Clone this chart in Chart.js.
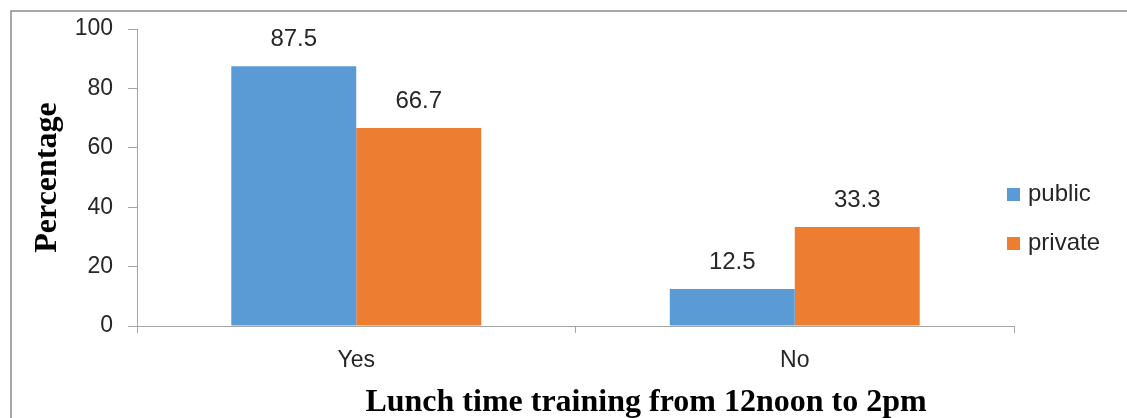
<!DOCTYPE html>
<html>
<head>
<meta charset="utf-8">
<script src="https://cdn.jsdelivr.net/npm/chart.js@4.4.1/dist/chart.umd.min.js"></script>
<style>
  html, body { margin: 0; padding: 0; background: #fff; }
  #wrap { width: 1127px; height: 418px; position: relative; }
</style>
</head>
<body>
<div id="wrap"><canvas id="lunchChart" width="1127" height="418"></canvas></div>
<script>
// data
const categories = ['Yes', 'No'];
const publicValues = [87.5, 12.5];
const privateValues = [66.7, 33.3];
const yTicks = [0, 20, 40, 60, 80, 100];
const xTitle = 'Lunch time training from 12noon to 2pm';

const axisGray = '#A6A6A6';
const textColor = '#262626';
const labelFont = { family: 'Liberation Sans', size: 23 };
const titleFont = 'bold 32px "Liberation Serif"';

// outer frame: only top and left edges visible in the reference
const framePlugin = {
    id: 'frame',
    beforeDraw(chart) {
        const c = chart.ctx;
        c.save();
        c.strokeStyle = '#8C8C8C';
        c.lineWidth = 1.5;
        c.beginPath();
        c.moveTo(11, 418);
        c.lineTo(11, 11);
        c.lineTo(1127, 11);
        c.stroke();
        c.restore();
    }
};

// value labels above the bars
const valueLabels = {
    id: 'valueLabels',
    afterDatasetsDraw(chart) {
        const c = chart.ctx;
        c.save();
        c.font = '24px ' + labelFont.family;
        c.fillStyle = textColor;
        c.textAlign = 'center';
        c.textBaseline = 'middle';
        chart.data.datasets.forEach((ds, i) => {
            chart.getDatasetMeta(i).data.forEach((bar, j) => {
                c.fillText(ds.data[j].toFixed(1), bar.x, bar.y - 27);
            });
        });
        c.restore();
    }
};

// legend + x title, drawn by hand so the plot area keeps its width
const sideLegend = {
    id: 'sideLegend',
    afterDraw(chart) {
        const c = chart.ctx;
        c.save();
        c.font = '24px ' + labelFont.family;
        c.textBaseline = 'middle';
        chart.data.datasets.forEach((ds, i) => {
            const y = 194 + i * 49;
            c.fillStyle = ds.backgroundColor;
            c.fillRect(1007, y - 6, 13, 13);
            c.fillStyle = textColor;
            c.fillText(ds.label, 1028, y);
        });
        // x axis title sits right of the plot centre in the original
        c.font = titleFont;
        c.fillStyle = '#000';
        c.textAlign = 'center';
        c.fillText(xTitle, 646, 403);
        c.restore();
    }
};

const ctx = document.getElementById('lunchChart').getContext('2d');
new Chart(ctx, {
    type: 'bar',
    data: {
        labels: categories,
        datasets: [
            {
                label: 'public',
                data: publicValues,
                backgroundColor: '#5B9BD5',
                categoryPercentage: 0.57,
                barPercentage: 1.0
            },
            {
                label: 'private',
                data: privateValues,
                backgroundColor: '#ED7D31',
                categoryPercentage: 0.57,
                barPercentage: 1.0
            }
        ]
    },
    options: {
        responsive: false,
        animation: false,
        layout: { padding: { left: 0, top: 29, right: 113, bottom: 0 } },
        plugins: {
            legend: { display: false },
            tooltip: { enabled: false }
        },
        scales: {
            x: {
                grid: { drawOnChartArea: false, tickLength: 7, color: axisGray, offset: true },
                border: { color: axisGray },
                ticks: { color: textColor, font: labelFont, padding: 14 },
                afterFit(scale) { scale.height = 92; }
            },
            y: {
                min: 0,
                max: 100,
                afterBuildTicks(scale) { scale.ticks = yTicks.map(v => ({ value: v })); },
                grid: { drawOnChartArea: false, tickLength: 9, color: axisGray },
                border: { color: axisGray },
                ticks: { color: textColor, font: labelFont, padding: 15 },
                title: {
                    display: true,
                    text: 'Percentage',
                    color: '#000',
                    font: { family: 'Liberation Serif', size: 32, weight: 'bold', lineHeight: 1 },
                    padding: { top: 32, bottom: 0 }
                },
                afterFit(scale) { scale.width = 137; }
            }
        }
    },
    plugins: [framePlugin, valueLabels, sideLegend]
});
</script>
</body>
</html>
